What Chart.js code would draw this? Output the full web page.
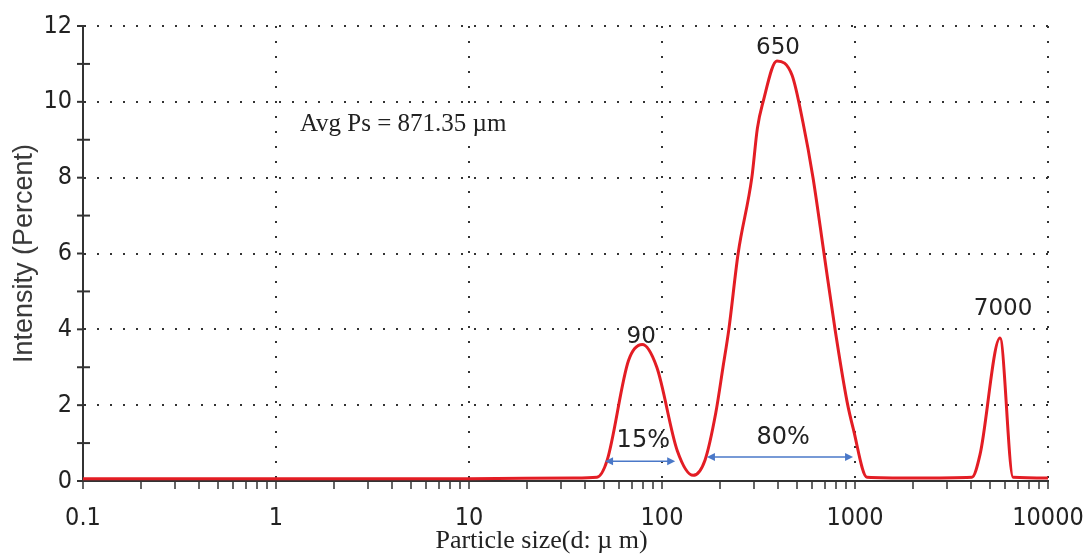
<!DOCTYPE html>
<html>
<head>
<meta charset="utf-8">
<script src="https://cdn.jsdelivr.net/npm/chart.js@4"></script>
<style>
  html, body { margin: 0; padding: 0; background: #fff; }
  #wrap { width: 1086px; height: 555px; }
</style>
</head>
<body>
<div id="wrap"><canvas id="psd"></canvas></div>
<script>
// particle size (um) and intensity (%)
const sizes = [0.1, 1, 10, 35, 46, 52, 67, 79, 94, 120, 145, 167, 190, 207, 222, 248, 292, 312, 334, 394, 472, 538, 606, 691, 788, 909, 977, 1154, 2000, 4037, 4446, 5640, 6590, 10000];
const intensity = [0.06, 0.06, 0.06, 0.08, 0.1, 0.55, 3.17, 3.6, 3.0, 0.8, 0.15, 0.55, 1.8, 3.0, 4.0, 6.0, 8.0, 9.3, 10.0, 11.08, 10.7, 9.45, 8.0, 6.0, 4.0, 2.1, 1.4, 0.1, 0.08, 0.1, 0.7, 3.77, 0.1, 0.08];

const decades = [0.1, 1, 10, 100, 1000, 10000];
const decadeLabels = ['0.1', '1', '10', '100', '1000', '10000'];
const yTickLabels = ['0', '2', '4', '6', '8', '10', '12'];

// text notes on the chart
const peakText = ['90', '650', '7000'];
const peakX = [78, 399, 5850];
const peakY = [3.8, 11.42, 4.53];
const shareText = ['15%', '80%'];
const shareX = [80, 424];
const shareY = [1.07, 1.15];
const arrowFrom = [50.7, 171];
const arrowTo = [117, 977];
const arrowY = [0.52, 0.63];
const avgText = 'Avg Ps = 871.35 \u00b5m';
const avgX = 1.33;
const avgY = 9.4;
const xTitle = 'Particle size(d: \u00b5 m)';

const DOT = '#333';
const AXIS = '#333';
const SERIF = '"Liberation Serif", "Times New Roman", serif';

function isDecade(v) {
  return decades.some(d => Math.abs(v - d) < d * 1e-6);
}

function drawArrowHead(ctx, x, y, dir) {
  ctx.beginPath();
  ctx.moveTo(x, y);
  ctx.lineTo(x - dir * 8, y - 4);
  ctx.lineTo(x - dir * 8, y + 4);
  ctx.closePath();
  ctx.fill();
}

const notes = {
  id: 'notes',
  afterDatasetsDraw(chart) {
    const ctx = chart.ctx;
    const xs = chart.scales.x, ys = chart.scales.y;
    const area = chart.chartArea;
    ctx.save();

    // y axis tick marks crossing the axis
    ctx.strokeStyle = AXIS;
    ctx.lineWidth = 2;
    for (let v = 0; v <= 12; v++) {
      const py = ys.getPixelForValue(v);
      ctx.beginPath();
      ctx.moveTo(area.left - 6, py);
      ctx.lineTo(area.left + (v % 2 ? 7 : 0), py);
      ctx.stroke();
    }

    // share arrows
    ctx.strokeStyle = '#4a78c8';
    ctx.fillStyle = '#4a78c8';
    ctx.lineWidth = 1.5;
    for (let i = 0; i < arrowFrom.length; i++) {
      const x1 = xs.getPixelForValue(arrowFrom[i]);
      const x2 = xs.getPixelForValue(arrowTo[i]);
      const py = ys.getPixelForValue(arrowY[i]);
      ctx.beginPath();
      ctx.moveTo(x1 + 4, py);
      ctx.lineTo(x2 - 4, py);
      ctx.stroke();
      drawArrowHead(ctx, x1, py, -1);
      drawArrowHead(ctx, x2, py, 1);
    }

    ctx.fillStyle = '#222';
    ctx.textAlign = 'center';
    ctx.textBaseline = 'middle';
    ctx.font = '23px "DejaVu Sans"';
    for (let i = 0; i < peakText.length; i++) {
      ctx.fillText(peakText[i], xs.getPixelForValue(peakX[i]), ys.getPixelForValue(peakY[i]));
    }
    ctx.font = '24px "DejaVu Sans"';
    for (let i = 0; i < shareText.length; i++) {
      ctx.fillText(shareText[i], xs.getPixelForValue(shareX[i]), ys.getPixelForValue(shareY[i]));
    }

    // average size note on a white patch
    ctx.textAlign = 'left';
    ctx.font = '25px ' + SERIF;
    const ax = xs.getPixelForValue(avgX), ay = ys.getPixelForValue(avgY);
    const w = ctx.measureText(avgText).width;
    ctx.fillStyle = '#fff';
    ctx.fillRect(ax - 2, ay - 13, w + 4, 26);
    ctx.fillStyle = '#222';
    ctx.fillText(avgText, ax, ay);

    // x axis title
    ctx.textAlign = 'center';
    ctx.textBaseline = 'alphabetic';
    ctx.font = '26px ' + SERIF;
    ctx.fillText(xTitle, (area.left + area.right) / 2 - 24, 548);
    ctx.restore();
  }
};

const tickFont = { family: '"Liberation Sans Narrow", "DejaVu Sans Condensed", Arial, sans-serif', size: 25 };

new Chart(document.getElementById('psd'), {
  type: 'line',
  data: {
    datasets: [{
      data: sizes.map((s, i) => ({ x: s, y: intensity[i] })),
      borderColor: '#e31d24',
      borderWidth: 3,
      pointRadius: 0,
      fill: false,
      cubicInterpolationMode: 'monotone'
    }]
  },
  options: {
    responsive: true,
    maintainAspectRatio: false,
    animation: false,
    layout: { padding: { top: 23, right: 0, left: 0, bottom: 0 } },
    plugins: {
      legend: { display: false },
      tooltip: { enabled: false }
    },
    scales: {
      x: {
        type: 'logarithmic',
        min: 0.1,
        max: 10000,
        afterBuildTicks(scale) {
          const t = [];
          decades.forEach(d => {
            if (d === 10000) { t.push({ value: d }); return; }
            for (let k = 1; k <= 9; k++) t.push({ value: +(d * k).toPrecision(6) });
          });
          scale.ticks = t;
        },
        afterFit(scale) {
          scale.height = 74;
          scale.paddingLeft = 0;
          scale.paddingRight = 38;
        },
        ticks: {
          autoSkip: false,
          maxRotation: 0,
          padding: 14,
          color: '#222',
          font: tickFont,
          callback(value) {
            const i = decades.findIndex(d => Math.abs(value - d) < d * 1e-6);
            return i >= 0 ? decadeLabels[i] : '';
          }
        },
        grid: {
          color: c => (c.tick && isDecade(c.tick.value) && c.tick.value !== 0.1) ? DOT : 'transparent',
          lineWidth: 2,
          tickColor: AXIS,
          tickLength: 8,
          tickWidth: 1.5,
          tickBorderDash: []
        },
        border: { display: true, color: AXIS, width: 2, dash: [2, 13] }
      },
      y: {
        min: 0,
        max: 12,
        afterBuildTicks(scale) {
          const t = [];
          for (let v = 0; v <= 12; v++) t.push({ value: v });
          scale.ticks = t;
        },
        afterFit(scale) { scale.width = 83; },
        ticks: {
          padding: 11,
          color: '#222',
          font: tickFont,
          callback(value) {
            return value % 2 === 0 ? yTickLabels[value / 2] : '';
          }
        },
        grid: {
          color: c => (c.tick && c.tick.value % 2 === 0 && c.tick.value !== 0) ? DOT : 'transparent',
          lineWidth: 2,
          drawTicks: false
        },
        border: { display: true, color: AXIS, width: 2, dash: [2, 11] },
        title: {
          display: true,
          text: 'Intensity (Percent)',
          color: '#3a3a3a',
          font: { family: '"Liberation Sans", Arial, sans-serif', size: 27 },
          padding: { top: 8, bottom: 0 }
        }
      }
    }
  },
  plugins: [notes]
});
</script>
</body>
</html>
